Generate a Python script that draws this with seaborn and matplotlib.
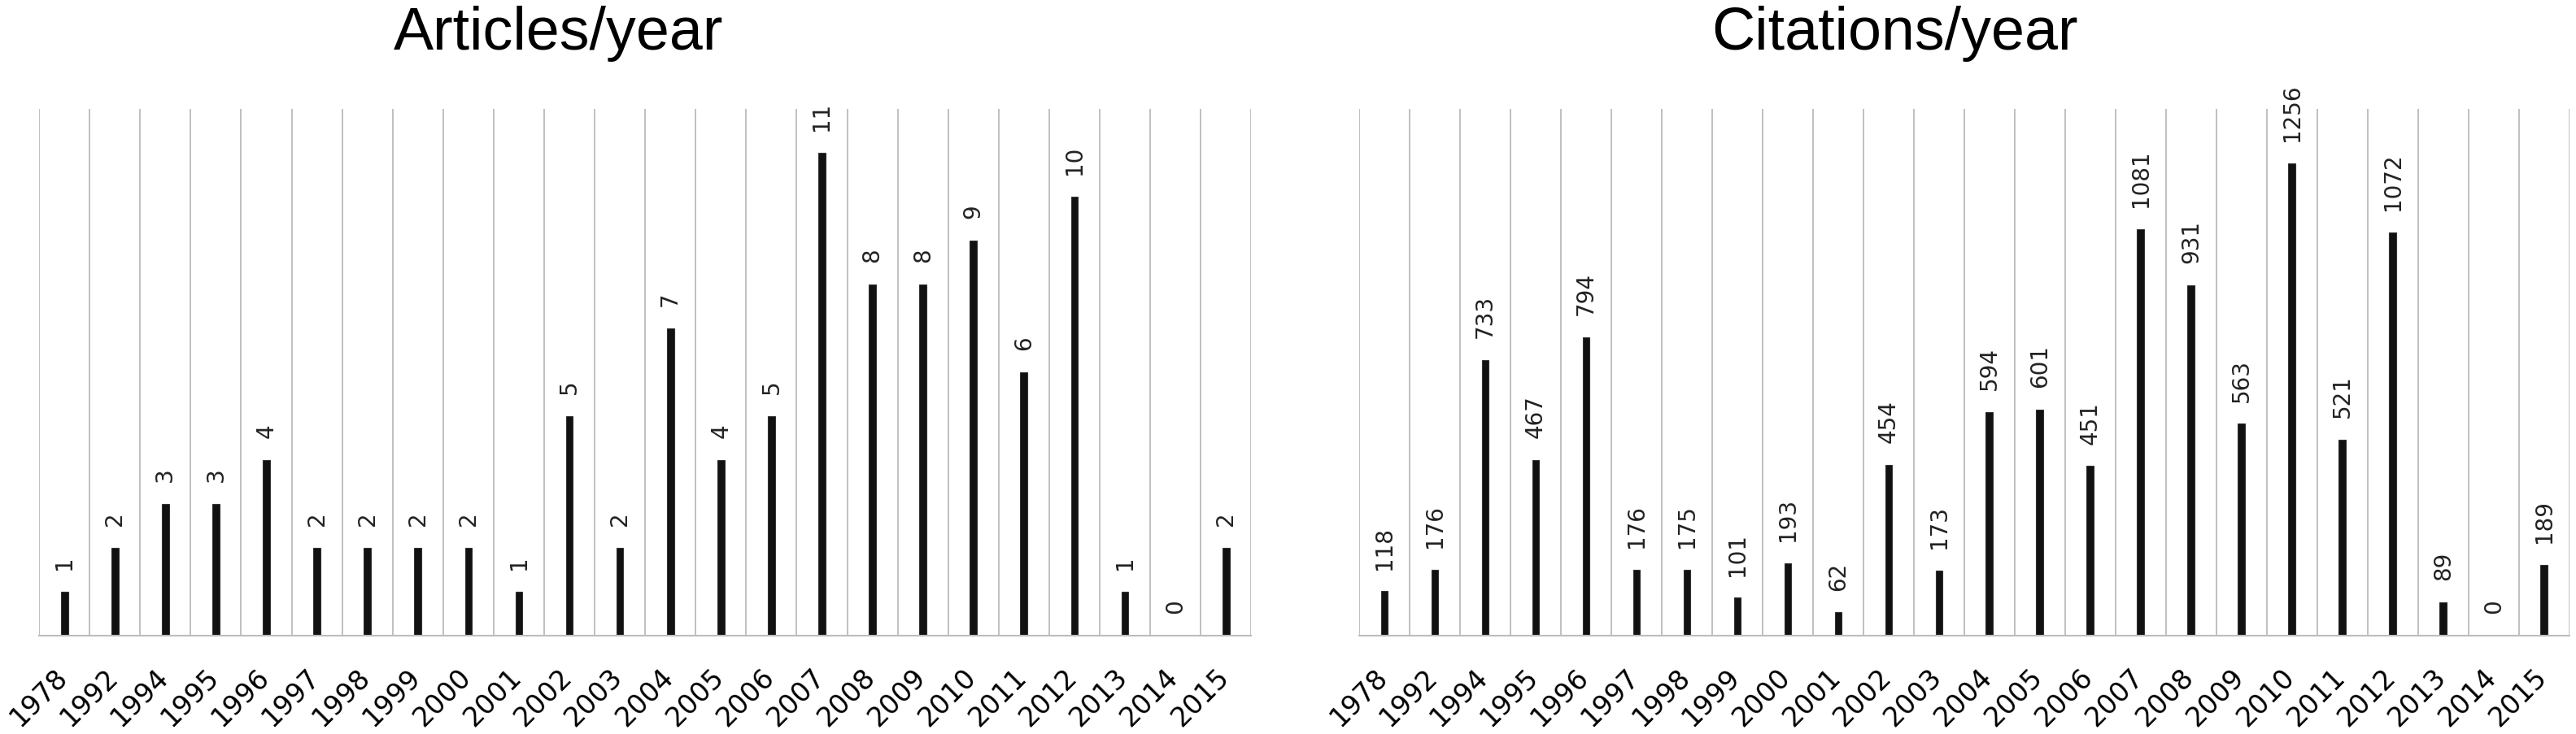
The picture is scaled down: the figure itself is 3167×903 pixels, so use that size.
import numpy as np
import pandas as pd
import matplotlib
matplotlib.use("Agg")
import matplotlib.pyplot as plt
import matplotlib.transforms as mtransforms
import seaborn as sns


# ---------------------------------
# DATA
# ---------------------------------

years = ["1978", "1992", "1994", "1995", "1996", "1997", "1998", "1999",
         "2000", "2001", "2002", "2003", "2004", "2005", "2006", "2007",
         "2008", "2009", "2010", "2011", "2012", "2013", "2014", "2015"]

articles = [1, 2, 3, 3, 4, 2, 2, 2, 2, 1, 5, 2, 7, 4, 5, 11,
            8, 8, 9, 6, 10, 1, 0, 2]

citations = [118, 176, 733, 467, 794, 176, 175, 101, 193, 62, 454, 173,
             594, 601, 451, 1081, 931, 563, 1256, 521, 1072, 89, 0, 189]


# ---------------------------------
# ONE PANEL
# ---------------------------------

def draw_panel(fig, ax, values, ymax):

    df = pd.DataFrame({"year": years, "value": values})

    sns.barplot(data=df, x="year", y="value", order=years,
                color="#111111", width=0.14, saturation=1,
                edgecolor="#333333", linewidth=0.8, ax=ax)

    ax.bar_label(ax.containers[0], padding=20, rotation=90,
                 fontsize=20, color="#222222")

    n = len(years)
    ax.set_xlim(-0.5, n - 0.5)
    ax.set_ylim(0, ymax)

    # gridlines sit between the categories
    ax.set_xticks(np.arange(-0.5, n), minor=True)
    ax.grid(which="minor", axis="x", color="#c0c0c0", linewidth=1.4)
    ax.grid(which="major", visible=False)
    ax.set_axisbelow(True)

    ax.tick_params(axis="x", which="both", length=0)
    ax.tick_params(axis="x", which="major", pad=24)

    # slanted year labels, nudged a little to the right of the bar
    shift = mtransforms.ScaledTranslation(10 / 100, 0, fig.dpi_scale_trans)
    for lab in ax.get_xticklabels():
        lab.set_rotation(45)
        lab.set_ha("right")
        lab.set_fontsize(24)
        lab.set_transform(lab.get_transform() + shift)

    ax.set_yticks([])
    ax.set_xlabel("")
    ax.set_ylabel("")

    for side in ["top", "left", "right"]:
        ax.spines[side].set_visible(False)
    ax.spines["bottom"].set_color("#bdbdbd")
    ax.spines["bottom"].set_linewidth(1.5)


# ---------------------------------
# MAIN FUNCTION
# ---------------------------------

def main():

    fig = plt.figure(figsize=(31.67, 9.04), dpi=100)

    ax1 = fig.add_axes([0.0152, 0.1338, 0.4705, 0.7168])
    ax2 = fig.add_axes([0.5276, 0.1338, 0.4698, 0.7168])

    draw_panel(fig, ax1, articles, 12)
    draw_panel(fig, ax2, citations, 1400)

    fig.text(687 / 3167, 1 - 61 / 904, "Articles/year", ha="center",
             va="baseline", fontsize=53, family="Liberation Sans")
    fig.text(2330 / 3167, 1 - 61 / 904, "Citations/year", ha="center",
             va="baseline", fontsize=53, family="Liberation Sans")

    fig.savefig("out.png", dpi=100, facecolor="white")


if __name__ == "__main__":
    main()
